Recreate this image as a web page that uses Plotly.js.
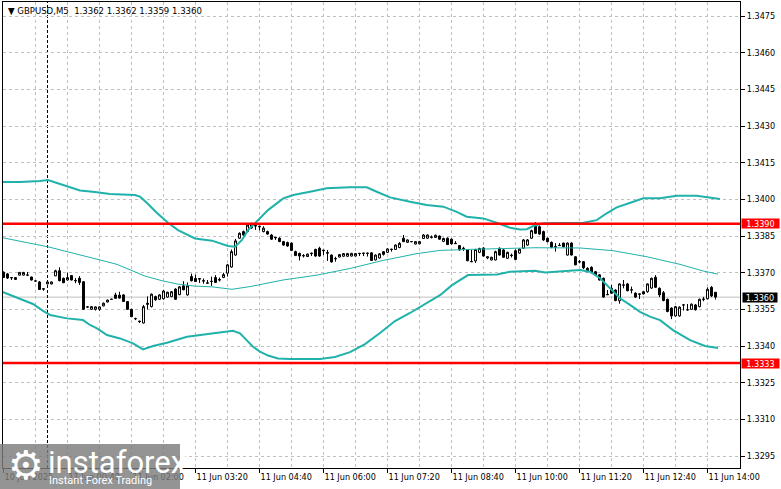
<!DOCTYPE html>
<html><head><meta charset="utf-8">
<script src="https://cdn.plot.ly/plotly-3.0.1.min.js"></script>
<style>html,body{margin:0;padding:0;background:#fff;overflow:hidden}#chart{width:781px;height:489px}</style>
</head><body><div id="chart"></div>
<script>
const symbol = 'GBPUSD';
const timeframe = 'M5';

const opens = [
1.33702,1.33695,1.33680,1.33672,1.33690,1.33690,1.33690,1.33682,1.33666,1.33662,
1.33634,1.33654,1.33654,1.33687,1.33708,1.33677,1.33670,1.33688,1.33668,1.33677,
1.33663,1.33559,1.33550,1.33550,1.33550,1.33564,1.33580,1.33591,1.33609,1.33608,
1.33609,1.33582,1.33550,1.33512,1.33502,1.33494,1.33570,1.33561,1.33602,1.33591,
1.33593,1.33600,1.33602,1.33633,1.33610,1.33646,1.33609,1.33684,1.33676,1.33676,
1.33667,1.33657,1.33665,1.33680,1.33672,1.33680,1.33698,1.33723,1.33772,1.33841,
1.33868,1.33868,1.33899,1.33893,1.33890,1.33868,1.33868,1.33854,1.33845,1.33841,
1.33827,1.33823,1.33821,1.33786,1.33779,1.33770,1.33766,1.33780,1.33795,1.33800,
1.33792,1.33782,1.33772,1.33758,1.33764,1.33767,1.33767,1.33768,1.33768,1.33779,
1.33780,1.33780,1.33781,1.33752,1.33760,1.33786,1.33783,1.33796,1.33795,1.33803,
1.33841,1.33824,1.33827,1.33817,1.33818,1.33840,1.33841,1.33846,1.33844,1.33850,
1.33828,1.33841,1.33837,1.33820,1.33811,1.33800,1.33793,1.33746,1.33748,1.33783,
1.33801,1.33760,1.33752,1.33752,1.33800,1.33793,1.33759,1.33772,1.33790,1.33780,
1.33800,1.33813,1.33841,1.33895,1.33888,1.33868,1.33841,1.33824,1.33806,1.33812,
1.33821,1.33772,1.33821,1.33765,1.33745,1.33745,1.33718,1.33722,1.33704,1.33691,
1.33677,1.33611,1.33636,1.33629,1.33585,1.33650,1.33654,1.33630,1.33616,1.33613,
1.33622,1.33622,1.33637,1.33681,1.33636,1.33618,1.33591,1.33555,1.33523,1.33523,
1.33568,1.33548,1.33550,1.33568,1.33561,1.33592,1.33593,1.33640,1.33620];
const highs = [
1.33705,1.33699,1.33682,1.33682,1.33703,1.33703,1.33703,1.33684,1.33668,1.33666,
1.33635,1.33664,1.33664,1.33712,1.33722,1.33680,1.33700,1.33690,1.33678,1.33686,
1.33666,1.33562,1.33563,1.33562,1.33562,1.33578,1.33590,1.33593,1.33618,1.33622,
1.33612,1.33584,1.33552,1.33516,1.33503,1.33568,1.33603,1.33615,1.33606,1.33612,
1.33630,1.33622,1.33625,1.33636,1.33645,1.33665,1.33660,1.33696,1.33692,1.33678,
1.33676,1.33670,1.33684,1.33690,1.33680,1.33700,1.33736,1.33795,1.33838,1.33865,
1.33872,1.33900,1.33905,1.33895,1.33892,1.33890,1.33872,1.33858,1.33846,1.33845,
1.33830,1.33827,1.33824,1.33790,1.33782,1.33776,1.33778,1.33782,1.33798,1.33806,
1.33794,1.33793,1.33775,1.33765,1.33776,1.33780,1.33781,1.33781,1.33780,1.33781,
1.33782,1.33782,1.33784,1.33775,1.33780,1.33788,1.33800,1.33798,1.33816,1.33825,
1.33854,1.33836,1.33829,1.33829,1.33830,1.33858,1.33857,1.33852,1.33856,1.33852,
1.33843,1.33844,1.33840,1.33829,1.33813,1.33806,1.33795,1.33793,1.33797,1.33802,
1.33804,1.33767,1.33765,1.33790,1.33803,1.33796,1.33786,1.33778,1.33795,1.33800,
1.33838,1.33838,1.33876,1.33907,1.33893,1.33872,1.33844,1.33828,1.33821,1.33821,
1.33823,1.33824,1.33825,1.33768,1.33752,1.33748,1.33722,1.33726,1.33707,1.33694,
1.33680,1.33629,1.33650,1.33632,1.33656,1.33670,1.33658,1.33643,1.33620,1.33614,
1.33624,1.33656,1.33680,1.33690,1.33640,1.33625,1.33594,1.33558,1.33564,1.33562,
1.33572,1.33572,1.33574,1.33572,1.33594,1.33601,1.33640,1.33645,1.33620];
const lows = [
1.33678,1.33674,1.33670,1.33670,1.33688,1.33688,1.33689,1.33668,1.33664,1.33629,
1.33626,1.33652,1.33652,1.33686,1.33665,1.33657,1.33668,1.33668,1.33657,1.33650,
1.33548,1.33557,1.33548,1.33545,1.33544,1.33562,1.33578,1.33589,1.33594,1.33594,
1.33580,1.33548,1.33518,1.33506,1.33494,1.33492,1.33550,1.33558,1.33585,1.33589,
1.33590,1.33598,1.33600,1.33589,1.33608,1.33628,1.33606,1.33664,1.33662,1.33658,
1.33655,1.33655,1.33646,1.33658,1.33664,1.33678,1.33684,1.33720,1.33770,1.33838,
1.33850,1.33865,1.33880,1.33875,1.33873,1.33865,1.33855,1.33834,1.33834,1.33825,
1.33810,1.33806,1.33789,1.33768,1.33750,1.33762,1.33764,1.33768,1.33765,1.33765,
1.33772,1.33748,1.33741,1.33745,1.33762,1.33765,1.33765,1.33766,1.33766,1.33768,
1.33768,1.33766,1.33748,1.33750,1.33758,1.33770,1.33780,1.33786,1.33793,1.33800,
1.33825,1.33822,1.33825,1.33815,1.33816,1.33838,1.33839,1.33840,1.33842,1.33835,
1.33825,1.33813,1.33815,1.33818,1.33790,1.33789,1.33747,1.33744,1.33740,1.33780,
1.33766,1.33755,1.33750,1.33750,1.33770,1.33760,1.33756,1.33762,1.33752,1.33778,
1.33797,1.33810,1.33838,1.33858,1.33855,1.33830,1.33824,1.33800,1.33786,1.33809,
1.33804,1.33770,1.33770,1.33730,1.33738,1.33715,1.33702,1.33697,1.33688,1.33668,
1.33597,1.33609,1.33614,1.33583,1.33573,1.33636,1.33624,1.33615,1.33597,1.33592,
1.33611,1.33618,1.33634,1.33637,1.33600,1.33583,1.33538,1.33510,1.33520,1.33520,
1.33545,1.33545,1.33548,1.33545,1.33558,1.33583,1.33590,1.33600,1.33590];
const closes = [
1.33680,1.33678,1.33679,1.33680,1.33701,1.33701,1.33690,1.33670,1.33666,1.33631,
1.33633,1.33662,1.33662,1.33708,1.33667,1.33659,1.33680,1.33670,1.33667,1.33660,
1.33550,1.33560,1.33561,1.33560,1.33560,1.33575,1.33588,1.33591,1.33595,1.33596,
1.33582,1.33550,1.33520,1.33512,1.33500,1.33561,1.33575,1.33612,1.33589,1.33609,
1.33625,1.33620,1.33622,1.33591,1.33642,1.33630,1.33646,1.33667,1.33664,1.33674,
1.33666,1.33658,1.33664,1.33660,1.33670,1.33692,1.33732,1.33786,1.33830,1.33861,
1.33854,1.33895,1.33883,1.33891,1.33888,1.33882,1.33858,1.33837,1.33843,1.33827,
1.33813,1.33809,1.33791,1.33770,1.33768,1.33769,1.33776,1.33778,1.33768,1.33768,
1.33790,1.33780,1.33744,1.33757,1.33774,1.33778,1.33778,1.33779,1.33778,1.33778,
1.33779,1.33779,1.33750,1.33772,1.33777,1.33775,1.33797,1.33795,1.33813,1.33820,
1.33827,1.33834,1.33827,1.33827,1.33827,1.33854,1.33854,1.33845,1.33853,1.33837,
1.33840,1.33815,1.33818,1.33819,1.33793,1.33799,1.33749,1.33745,1.33795,1.33799,
1.33768,1.33765,1.33763,1.33786,1.33772,1.33763,1.33783,1.33770,1.33754,1.33796,
1.33834,1.33834,1.33872,1.33861,1.33858,1.33834,1.33827,1.33804,1.33805,1.33811,
1.33806,1.33821,1.33772,1.33732,1.33744,1.33720,1.33704,1.33700,1.33691,1.33670,
1.33600,1.33610,1.33616,1.33586,1.33654,1.33649,1.33626,1.33629,1.33600,1.33612,
1.33613,1.33654,1.33677,1.33640,1.33609,1.33586,1.33541,1.33523,1.33561,1.33559,
1.33568,1.33548,1.33571,1.33548,1.33591,1.33591,1.33632,1.33605,1.33600];

// Bollinger bands (bar index, price)
const upperBandX = [-0.875,4.125,9.125,11.125,13.375,19.125,22.875,26.625,32.875,34.125,35.875,38.375,41.125,43.625,47.875,52.125,56.125,57.875,59.625,61.125,62.875,64.625,66.125,69.95,72.45,76.625,80.8,86.625,90.8,93.3,96.625,101.625,105.8,109.95,113.3,115.8,119.95,123.3,126.625,129.125,130.8,132.45,134.95,144.95,148.3,150.8,153.3,157.45,159.95,164.125,168.3,173.3,176.625,179.125];
const upperBand = [1.34071,1.34071,1.34075,1.34079,1.34067,1.34036,1.34030,1.34022,1.34018,1.34011,1.33985,1.33944,1.33904,1.33874,1.33840,1.33831,1.33809,1.33806,1.33834,1.33874,1.33902,1.33929,1.33956,1.34004,1.34018,1.34031,1.34045,1.34049,1.34049,1.34031,1.34008,1.33990,1.33977,1.33970,1.33949,1.33929,1.33922,1.33904,1.33884,1.33877,1.33878,1.33891,1.33902,1.33904,1.33915,1.33943,1.33967,1.33990,1.34004,1.34004,1.34015,1.34015,1.34008,1.34001];
const midBandX = [-0.875,7.375,11.625,15.875,19.875,24.125,28.375,32.375,35.375,39.625,43.625,47.875,52.125,57.125,61.625,69.875,78.375,86.625,94.875,103.375,109.125,116.125,124.625,132.875,144.125,152.375,160.875,169.125,174.875,178.625];
const midBand = [1.33845,1.33820,1.33804,1.33786,1.33768,1.33752,1.33734,1.33707,1.33686,1.33667,1.33653,1.33645,1.33642,1.33632,1.33643,1.33670,1.33690,1.33717,1.33750,1.33778,1.33791,1.33795,1.33799,1.33802,1.33801,1.33790,1.33765,1.33734,1.33707,1.33694];
const lowerBandX = [-0.875,1.625,4.125,7.375,9.875,11.625,15.875,19.875,21.625,23.375,25.875,29.125,32.375,34.875,37.375,40.875,45.875,50.875,55.875,57.375,59.125,62.375,64.125,66.125,68.625,71.625,79.125,82.875,86.625,90.375,94.125,97.875,101.625,105.375,109.125,112.125,116.125,123.375,126.625,132.875,135.375,144.125,146.625,149.125,151.625,154.125,156.625,159.125,161.625,164.125,167.375,171.625,175.375,178.625];
const lowerBand = [1.33625,1.33608,1.33591,1.33572,1.33544,1.33527,1.33513,1.33506,1.33486,1.33472,1.33445,1.33431,1.33411,1.33386,1.33400,1.33413,1.33438,1.33449,1.33458,1.33462,1.33452,1.33397,1.33377,1.33361,1.33349,1.33347,1.33347,1.33355,1.33375,1.33408,1.33453,1.33502,1.33535,1.33572,1.33608,1.33649,1.33690,1.33693,1.33704,1.33708,1.33701,1.33711,1.33704,1.33677,1.33636,1.33595,1.33568,1.33540,1.33520,1.33506,1.33465,1.33424,1.33400,1.33392];

const xLabels = ['10 Jun 2025','11 Jun 00:40','11 Jun 02:00','11 Jun 03:20','11 Jun 04:40','11 Jun 06:00','11 Jun 07:20','11 Jun 08:40','11 Jun 10:00','11 Jun 11:20','11 Jun 12:40','11 Jun 14:00'];
const yTicks = [1.3295,1.3310,1.3325,1.3340,1.3355,1.3370,1.3385,1.3400,1.3415,1.3430,1.3445,1.3460,1.3475];
const levels = [1.3390, 1.3333];
const separatorBar = 11;
const barsPerLabel = 16;
const barsPerGrid = 8;

const FONT = '"DejaVu Sans Condensed", "Liberation Sans", Arial, sans-serif';
const TEAL = '#20b2aa';
const GRID = '#c0c0c0';
const bars = opens.map((_, i) => i);
const last = bars.length - 1;
const lastClose = closes[last];

const tickvals = xLabels.map((_, i) => i * barsPerLabel);
const minorVals = tickvals.map(v => v + barsPerGrid);

const traces = [
  {type:'scatter', mode:'lines', x:midBandX, y:midBand, line:{color:TEAL, width:1}, hoverinfo:'skip'},
  {type:'scatter', mode:'lines', x:upperBandX, y:upperBand, line:{color:TEAL, width:2}, hoverinfo:'skip'},
  {type:'scatter', mode:'lines', x:lowerBandX, y:lowerBand, line:{color:TEAL, width:2}, hoverinfo:'skip'},
  {type:'candlestick', x:bars, open:opens, high:highs, low:lows, close:closes,
   increasing:{line:{color:'#000', width:1}, fillcolor:'#ffffff'},
   decreasing:{line:{color:'#000', width:1}, fillcolor:'#000000'},
   whiskerwidth:0, hoverinfo:'skip'}
];

const shapes = [
  {type:'line', xref:'paper', x0:0, x1:1, yref:'y', y0:lastClose, y1:lastClose, line:{color:GRID, width:1}, layer:'below'},
  {type:'line', xref:'x', x0:separatorBar, x1:separatorBar, yref:'paper', y0:0, y1:1, line:{color:'#000', width:1, dash:'3px,2px'}, layer:'below'}
];
levels.forEach(v => shapes.push({type:'line', xref:'paper', x0:0, x1:1, yref:'y', y0:v, y1:v, line:{color:'#ff0000', width:2.5}, layer:'above'}));
// watermark box
shapes.push({type:'rect', xref:'paper', yref:'paper', x0:-3/737, x1:177/737, y0:-21/466, y1:24/466, fillcolor:'rgba(125,125,125,0.82)', line:{width:0}, layer:'above'});

const f = (v) => v.toFixed(4);
const annotations = [
  {xref:'paper', yref:'paper', x:3/737, y:1-8/466, xanchor:'left', yanchor:'middle', showarrow:false,
   text:'▼ ' + symbol + ',' + timeframe + '\u00a0\u00a0' + [opens[last], highs[last], lows[last], closes[last]].map(f).join(' '),
   font:{family:'"DejaVu Sans Condensed", "Liberation Sans", sans-serif', size:9.5, color:'#000'}}
];
levels.forEach(v => annotations.push({xref:'paper', yref:'y', x:1, y:v, xanchor:'left', yanchor:'middle', xshift:1, showarrow:false,
  text:f(v), font:{family:FONT, size:9, color:'#fff'}, bgcolor:'#ff0000', width:37, height:9, borderpad:0}));
annotations.push({xref:'paper', yref:'y', x:1, y:lastClose, xanchor:'left', yanchor:'middle', xshift:2, showarrow:false,
  text:f(lastClose), font:{family:FONT, size:9, color:'#fff'}, bgcolor:'#000000', width:34, height:9, borderpad:0});
// watermark text
annotations.push({xref:'paper', yref:'paper', x:23/737, y:3/466, xanchor:'center', yanchor:'middle', showarrow:false,
  text:'⚙', font:{family:'DejaVu Sans', size:40, color:'#ffffff'}});
annotations.push({xref:'paper', yref:'paper', x:43/737, y:6/466, xanchor:'left', yanchor:'middle', showarrow:false,
  text:'instaforex', font:{family:'Roboto, "Open Sans", sans-serif', size:31, color:'#ffffff'}});
annotations.push({xref:'paper', yref:'paper', x:44/737, y:-12/466, xanchor:'left', yanchor:'middle', showarrow:false,
  text:'Instant Forex Trading', font:{family:'Roboto, "Liberation Sans", sans-serif', size:11, color:'#ffffff'}});

const layout = {
  width:781, height:489,
  margin:{l:3, r:41, t:2, b:21, pad:0},
  paper_bgcolor:'#ffffff', plot_bgcolor:'#ffffff',
  showlegend:false, hovermode:false,
  font:{family:FONT, size:9, color:'#000'},
  boxgap:0.3, boxgroupgap:0.3,
  xaxis:{type:'linear', range:[-0.125, 184.125], fixedrange:true,
    tickmode:'array', tickvals:tickvals, ticktext:xLabels,
    ticks:'outside', ticklen:4, tickcolor:'#000', tickwidth:1,
    ticklabelposition:'outside right',
    tickfont:{family:FONT, size:9, color:'#000'},
    showgrid:true, gridcolor:GRID, gridwidth:1, griddash:'3px,3px',
    minor:{tickmode:'array', tickvals:minorVals, showgrid:true, gridcolor:GRID, gridwidth:1, griddash:'3px,3px', ticks:''},
    showline:true, linecolor:'#000', linewidth:1, mirror:true,
    zeroline:false, rangeslider:{visible:false}},
  yaxis:{side:'right', range:[1.329009, 1.348073], fixedrange:true,
    tickmode:'array', tickvals:yTicks, ticktext:yTicks.map(f),
    ticks:'outside', ticklen:4, tickcolor:'#000', tickwidth:1,
    tickfont:{family:FONT, size:9, color:'#000'},
    showgrid:true, gridcolor:GRID, gridwidth:1, griddash:'3px,3px',
    showline:true, linecolor:'#000', linewidth:1, mirror:true,
    zeroline:false},
  shapes:shapes,
  annotations:annotations
};

Plotly.newPlot('chart', traces, layout, {staticPlot:true, displayModeBar:false});
</script>
</body></html>
